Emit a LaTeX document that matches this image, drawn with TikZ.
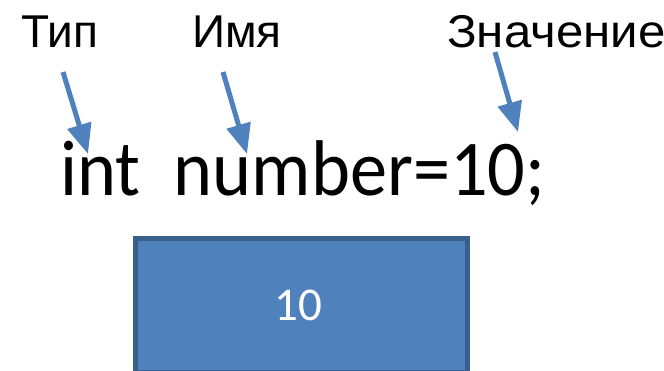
\documentclass[tikz,border=0pt]{standalone}
\usepackage{fontspec}
\setmainfont{Carlito}
\newfontfamily\labfont{Liberation Sans}
\usetikzlibrary{arrows.meta}
\definecolor{accent}{HTML}{4F81BD}
\definecolor{accentdark}{HTML}{3B5F8C}
\tikzset{
  lbl/.style={anchor=base west, inner sep=0pt, font=\labfont\fontsize{46}{46}\selectfont},
  ptr/.style={draw=accent, line width=5pt, -{Triangle[width=24pt,length=30pt]}},
  cell/.style={draw=accentdark, fill=accent, line width=5pt}
}
\begin{document}
\begin{tikzpicture}[x=1pt,y=-1pt]
\useasboundingbox (0,0) rectangle (664,370);
\node[lbl] (tip) at (21,47) {Тип};
\node[lbl] (name) at (192,47) {Имя};
\node[lbl] (val) at (447,47) {\scalebox{1.07}[1]{Значение}};
\node[anchor=base west, inner sep=0pt, font=\fontsize{79}{79}\selectfont] (code) at (60,195) {\scalebox{0.94}[1]{int\ \ number=10;}};
\coordinate (t1) at (63,72);
\coordinate (t2) at (88,154);
\coordinate (n1) at (223,72);
\coordinate (n2) at (247,154);
\coordinate (v1) at (495,52);
\coordinate (v2) at (518,132);
\draw[ptr] (t1) -- (t2);
\draw[ptr] (n1) -- (n2);
\draw[ptr] (v1) -- (v2);
\node[cell, minimum width=332pt, minimum height=134pt, inner sep=0pt, anchor=north west] (box) at (132.5,235.5) {};
\node[text=white, font=\fontsize{47}{47}\selectfont, inner sep=0pt] (boxval) at (298,305) {10};
\end{tikzpicture}
\end{document}
